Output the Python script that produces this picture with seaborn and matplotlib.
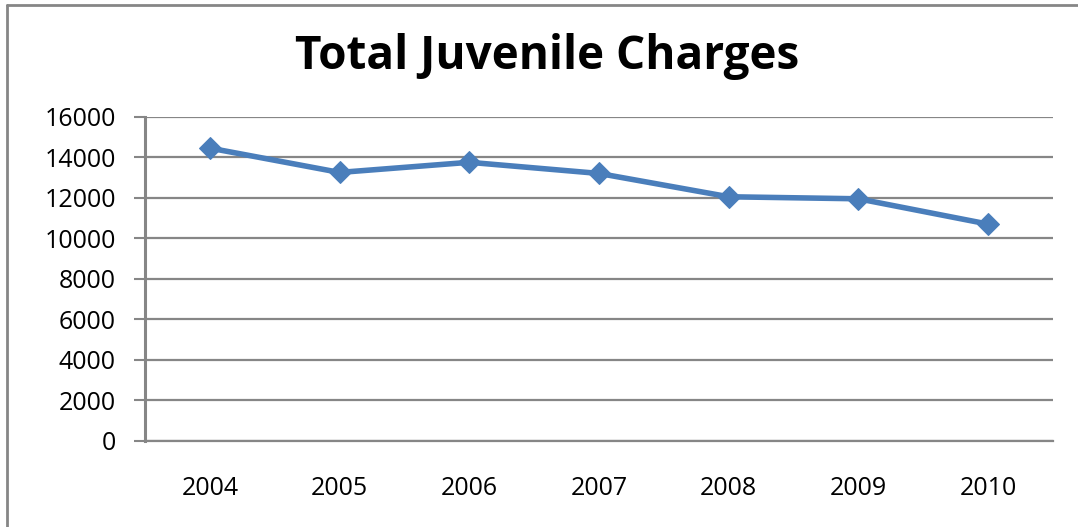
import matplotlib
matplotlib.use("Agg")
import matplotlib.pyplot as plt
from matplotlib.lines import Line2D
import numpy as np
import pandas as pd
import seaborn as sns

years = ["2004", "2005", "2006", "2007", "2008", "2009", "2010"]
charges = [14450, 13250, 13750, 13200, 12050, 11950, 10700]
y_ticks = [0, 2000, 4000, 6000, 8000, 10000, 12000, 14000, 16000]

sns.set_style("white")
plt.rcParams["font.family"] = ["Open Sans", "DejaVu Sans"]
plt.rcParams["text.color"] = "black"
plt.rcParams["xtick.color"] = "black"
plt.rcParams["ytick.color"] = "black"

grey = "#868686"
blue = "#4A7EBB"

df = pd.DataFrame({"pos": np.arange(len(years)), "charges": charges})

fig = plt.figure(figsize=(10.78, 5.27), dpi=100)
ax = fig.add_axes([145 / 1078, 1 - 441 / 527, (1053 - 145) / 1078, (441 - 116.7) / 527])

sns.lineplot(data=df, x="pos", y="charges", ax=ax, color=blue, linewidth=4,
             marker="D", markersize=11, markeredgecolor=blue, markerfacecolor=blue,
             zorder=5)

ax.set_xlim(-0.5, len(years) - 0.5)
ax.set_ylim(0, 16000)
ax.set_yticks(y_ticks)
ax.set_yticklabels([str(v) for v in y_ticks], fontsize=18, color="black")
ax.set_xticks(np.arange(len(years)))
ax.set_xticklabels(years, fontsize=18, color="black")
ax.set_xticks(np.arange(-0.5, len(years)), minor=True)
ax.tick_params(axis="x", which="major", length=0, pad=25)
ax.tick_params(axis="x", which="minor", length=8, width=2, color=grey, direction="out")
ax.tick_params(axis="y", which="major", length=8, width=1.5, color=grey, direction="out", pad=13, left=True)
ax.set_xlabel("")
ax.set_ylabel("")

ax.grid(axis="y", color=grey, linewidth=1.6)
ax.grid(axis="x", visible=False)
ax.set_axisbelow(True)
for side in ["top", "right"]:
    ax.spines[side].set_visible(False)
ax.spines["left"].set_color(grey)
ax.spines["left"].set_linewidth(2.2)
ax.spines["bottom"].set_color(grey)
ax.spines["bottom"].set_linewidth(1.6)

fig.text(547 / 1078, 1 - 57 / 527, "Total Juvenile Charges", ha="center", va="center",
         fontsize=33, fontweight="bold", color="black", family=["Open Sans", "DejaVu Sans"])

# chart frame: top and left edges
fig.add_artist(Line2D([7 / 1078, 7 / 1078], [0, 1 - 5 / 527], transform=fig.transFigure,
                      color=grey, linewidth=2))
fig.add_artist(Line2D([7 / 1078, 1], [1 - 5 / 527, 1 - 5 / 527], transform=fig.transFigure,
                      color=grey, linewidth=2))

fig.savefig("out.png", dpi=100)
